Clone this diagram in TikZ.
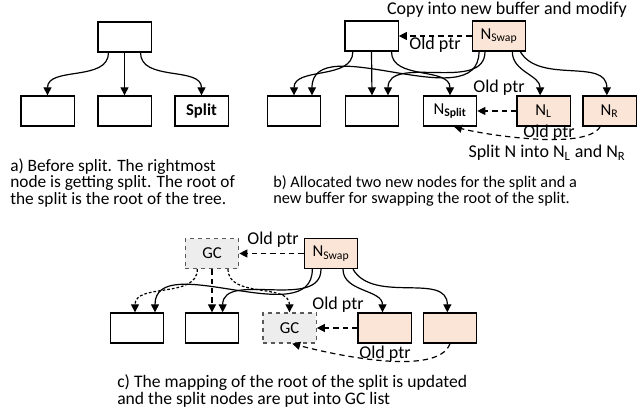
\documentclass[tikz,border=0pt]{standalone}
\usepackage{fontspec}
\setmainfont{Carlito}
\usepackage{xcolor}
\usetikzlibrary{arrows.meta}

\definecolor{swapfill}{HTML}{FBE5D6}
\definecolor{gcfill}{HTML}{EDEDED}
\definecolor{gcline}{HTML}{595959}

\tikzset{
  box/.style={draw=black, line width=1pt, fill=white, minimum width=40pt, minimum height=22.5pt, inner sep=1pt, font=\fontsize{12.5}{14}\selectfont},
  newbox/.style={box, fill=swapfill},
  gcbox/.style={box, draw=gcline, dashed, fill=gcfill},
  link/.style={line width=0.9pt, -{Triangle[length=6pt,width=6pt]}},
  oldptr/.style={link, dash pattern=on 4pt off 3pt},
  gclink/.style={link, dash pattern=on 2pt off 1.5pt},
  lbl/.style={font=\fontsize{13.5}{14}\selectfont, inner sep=0pt},
  caption/.style={align=left, anchor=west, inner sep=0pt}
}

\begin{document}
\begin{tikzpicture}[x=0.75pt, y=-0.75pt]
\useasboundingbox (0,0) rectangle (644,414);

% a) before split
\node[box] (a-root) at (124.5,37) {};
\node[box] (a-c1) at (47.5,111) {};
\node[box] (a-c2) at (124.5,111) {};
\node[box, font=\fontsize{12.5}{14}\selectfont\bfseries] (a-split) at (201.5,111) {Split};
\draw[link] ([xshift=-12pt]a-root.south) to[out=-90, in=90] (a-c1.north);
\draw[link] (a-root.south) -- (a-c2.north);
\draw[link] ([xshift=12pt]a-root.south) to[out=-90, in=90] (a-split.north);
\node[caption, font=\fontsize{13}{12.6}\selectfont] (a-cap) at (10,183) {a) Before split. The rightmost\\node is getting split. The root of\\the split is the root of the tree.};

% b) allocate new nodes
\node[box] (b-root) at (371.5,36) {};
\node[newbox] (b-swap) at (499,36) {N\textsubscript{Swap}};
\node[box] (b-c1) at (294,111) {};
\node[box] (b-c2) at (372,111) {};
\node[box] (b-nsplit) at (450,111) {N\textsubscript{\bfseries Split}};
\node[newbox] (b-nl) at (543.5,111) {N\textsubscript{L}};
\node[newbox] (b-nr) at (609.5,111) {N\textsubscript{R}};
\draw[link] ([xshift=-14pt]b-root.south) to[out=-90, in=90] (b-c1.north);
\draw[link] (b-root.south) -- (b-c2.north);
\draw[link] ([xshift=15pt]b-root.south) to[out=-90, in=90] (b-nsplit.north);
\draw[link] ([xshift=-15pt]b-swap.south) to[out=-90, in=90] ([xshift=13.5pt]b-c1.north);
\draw[link] ([xshift=-10.5pt]b-swap.south) to[out=-90, in=90] ([xshift=12pt]b-c2.north);
\draw[link] ([xshift=10pt]b-swap.south) to[out=-90, in=90] ([xshift=-2.5pt]b-nl.north);
\draw[link] ([xshift=16pt]b-swap.south) to[out=-60, in=90] ([xshift=-2pt]b-nr.north);
\draw[oldptr] (b-swap.west) -- (b-root.east);
\draw[oldptr] (b-nl.west) -- (b-nsplit.east);
\draw[oldptr] ([xshift=-7pt]b-nr.south) to[out=-120, in=-15, looseness=0.5] ([xshift=3pt]b-nsplit.south);
\node[lbl] (b-copy) at (507,10) {Copy into new buffer and modify};
\node[lbl] (b-old1) at (435,45) {Old ptr};
\node[lbl] (b-old2) at (499,88) {Old ptr};
\node[lbl] (b-old3) at (549,133) {Old ptr};
\node[lbl] (b-splitn) at (547,153) {Split N into N\textsubscript{L} and N\textsubscript{R}};
\node[caption, font=\fontsize{12.2}{12.2}\selectfont] (b-cap) at (273,191) {b) Allocated two new nodes for the split and a\\new buffer for swapping the root of the split.};

% c) swap the mapping
\node[gcbox] (c-gc) at (212,253.5) {GC};
\node[newbox] (c-swap) at (331,253.5) {N\textsubscript{Swap}};
\node[box] (c-c1) at (137,328) {};
\node[box] (c-c2) at (212,328) {};
\node[gcbox] (c-gc2) at (289.5,328) {GC};
\node[newbox] (c-nl) at (384.5,328) {};
\node[newbox] (c-nr) at (450,328) {};
\draw[gclink] ([xshift=-11pt]c-gc.south) to[out=-90, in=90] ([xshift=-1.5pt]c-c1.north);
\draw[oldptr] (c-gc.south) -- (c-c2.north);
\draw[gclink] ([xshift=12pt]c-gc.south) to[out=-90, in=90] (c-gc2.north);
\draw[link] ([xshift=-14pt]c-swap.south) to[out=-90, in=90] ([xshift=13.5pt]c-c1.north);
\draw[link] ([xshift=-7.5pt]c-swap.south) to[out=-90, in=90] ([xshift=8pt]c-c2.north);
\draw[link] ([xshift=9pt]c-swap.south) to[out=-90, in=90] ([xshift=-1.5pt]c-nl.north);
\draw[link] ([xshift=16.5pt]c-swap.south) to[out=-60, in=90] ([xshift=-2pt]c-nr.north);
\draw[oldptr] (c-swap.west) -- (c-gc.east);
\draw[oldptr] (c-nl.west) -- (c-gc2.east);
\draw[oldptr] (c-nr.south) to[out=-110, in=-15, looseness=0.6] ([xshift=2pt]c-gc2.south);
\node[lbl] (c-old1) at (273,240) {Old ptr};
\node[lbl] (c-old2) at (338,305) {Old ptr};
\node[lbl] (c-old3) at (385,354) {Old ptr};
\node[caption, font=\fontsize{13.2}{13}\selectfont] (c-cap) at (117,391) {c) The mapping of the root of the split is updated\\and the split nodes are put into GC list};
\end{tikzpicture}
\end{document}
